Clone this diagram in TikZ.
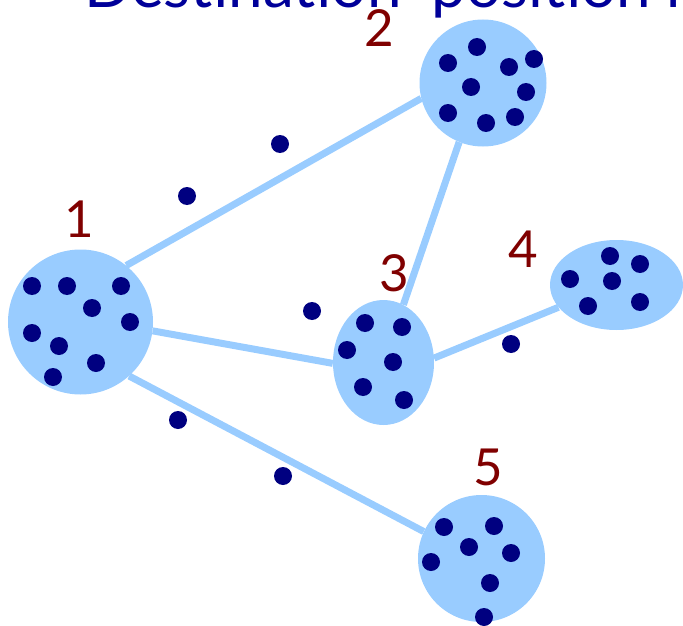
\documentclass[tikz,border=0pt]{standalone}
\usepackage{fontspec}
\setmainfont{Lato}
\usetikzlibrary{shapes.geometric}
\definecolor{cloud}{HTML}{99CCFF}
\definecolor{member}{HTML}{000080}
\definecolor{tag}{HTML}{800000}
\definecolor{heading}{HTML}{000099}
\tikzset{
  cluster/.style={circle, fill=cloud, inner sep=0pt},
  oval/.style={ellipse, fill=cloud, inner sep=0pt},
  link/.style={draw=cloud, line width=7pt},
  member/.style={fill=member},
  tag/.style={text=tag, font=\fontsize{51}{51}\selectfont, inner sep=0pt},
}
\begin{document}
\begin{tikzpicture}[x=1pt, y=-1pt]
  \useasboundingbox (0,0) rectangle (683,626);
  \clip (0,0) rectangle (683,626);

  % heading, partly outside the frame
  \node[anchor=base west, inner sep=0pt, text=heading,
        font=\fontsize{62}{62}\selectfont] (title) at (84,7.5) {Destination\kern14pt\ position r};

  % clusters
  \node[cluster, minimum size=145pt] (c1) at (80.5,322) {};
  \node[cluster, minimum size=127pt] (c2) at (483,83) {};
  \node[oval, minimum width=101pt, minimum height=125pt] (c3) at (383.5,362.5) {};
  \node[oval, minimum width=133pt, minimum height=90pt] (c4) at (616.5,285) {};
  \node[cluster, minimum size=127pt] (c5) at (481.5,558.5) {};

  % links between clusters
  \draw[link] (c1.51.5) -- (c2.194);
  \draw[link] (c1.-7) -- (c3.181);
  \draw[link] (c2.248) -- (c3.71);
  \draw[link] (c3.5) -- (c4.201);
  \draw[link] (c1.-48) -- (c5.155);

  % members inside the clusters
  \foreach \p in {(32,286),(67,286),(121,286),(92,308),(130,322),(32,333),(59,346),(96,363),(53,377),
                  (477,47),(448,63),(509,67),(534,59),(471,87),(526,92),(448,113),(486,123),(515,117),
                  (365,323),(402,327),(347,350),(393,362),(363,387),(404,400),
                  (610,256),(640,264),(570,279),(612,281),(588,306),(640,302),
                  (444,527),(494,526),(469,547),(511,553),(431,562),(490,583),(484,617)}
    \fill[member] \p circle (9pt);

  % members moving between clusters
  \foreach \p in {(280,144),(187,196),(312,311),(511,344),(178,420),(283,476)}
    \fill[member] \p circle (9pt);

  % cluster numbers
  \node[tag] (n1) at (79,219) {1};
  \node[tag] (n2) at (379,28) {2};
  \node[tag] (n3) at (394,273) {3};
  \node[tag] (n4) at (523,249) {4};
  \node[tag] (n5) at (488,467) {5};
\end{tikzpicture}
\end{document}
